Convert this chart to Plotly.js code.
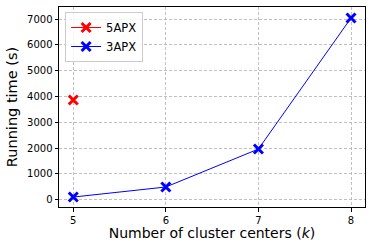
<!DOCTYPE html>
<html><head><meta charset="utf-8">
<script src="https://cdn.plot.ly/plotly-3.0.1.min.js"></script>
<style>html,body{margin:0;padding:0;background:#fff}#c{width:374px;height:249px}</style>
</head><body><div id="c"></div>
<script>
const kValues = [5, 6, 7, 8];
const apx3Times = [100, 490, 1960, 7040];
const apx5K = [5];
const apx5Times = [3860];
const xTicks = [5, 6, 7, 8];
const yTicks = [0, 1000, 2000, 3000, 4000, 5000, 6000, 7000];

const font = "DejaVu Sans, sans-serif";
const traces = [
  {x: apx5K, y: apx5Times, name: "5APX", mode: "lines+markers",
   line: {color: "red", width: 1},
   marker: {symbol: "x-thin", size: 9, color: "red", line: {color: "red", width: 3}}},
  {x: kValues, y: apx3Times, name: "3APX", mode: "lines+markers",
   line: {color: "blue", width: 1},
   marker: {symbol: "x-thin", size: 9, color: "blue", line: {color: "blue", width: 3}}}
];
const layout = {
  width: 374, height: 249,
  margin: {l: 59, r: 9, t: 7, b: 42},
  paper_bgcolor: "#fff", plot_bgcolor: "#fff",
  font: {family: font, color: "#000"},
  showlegend: true,
  legend: {x: 0.02, y: 0.975, xanchor: "left", yanchor: "top",
    bgcolor: "rgba(255,255,255,0.8)", bordercolor: "#ccc", borderwidth: 1,
    font: {size: 11.5, family: font}, itemwidth: 30, tracegroupgap: 0},
  xaxis: {range: [4.846, 8.151], tickvals: xTicks, ticktext: xTicks.map(String),
    showline: true, mirror: true, linecolor: "#000", linewidth: 1,
    ticks: "outside", ticklen: 3.5, tickcolor: "#000",
    showgrid: true, gridcolor: "#b0b0b0", griddash: "3px,2px", gridwidth: 0.8,
    zeroline: false, tickfont: {size: 10},
    title: {text: "Number of cluster centers (<i>k</i>)", font: {size: 14}, standoff: 3}},
  yaxis: {range: [-285, 7465], tickvals: yTicks, ticktext: yTicks.map(String),
    showline: true, mirror: true, linecolor: "#000", linewidth: 1,
    ticks: "outside", ticklen: 3.5, tickcolor: "#000",
    showgrid: true, gridcolor: "#b0b0b0", griddash: "3px,2px", gridwidth: 0.8,
    zeroline: false, tickfont: {size: 10},
    title: {text: "Running time (s)", font: {size: 14.5}, standoff: 5}}
};
Plotly.newPlot("c", traces, layout, {displayModeBar: false, staticPlot: true});
</script></body></html>
